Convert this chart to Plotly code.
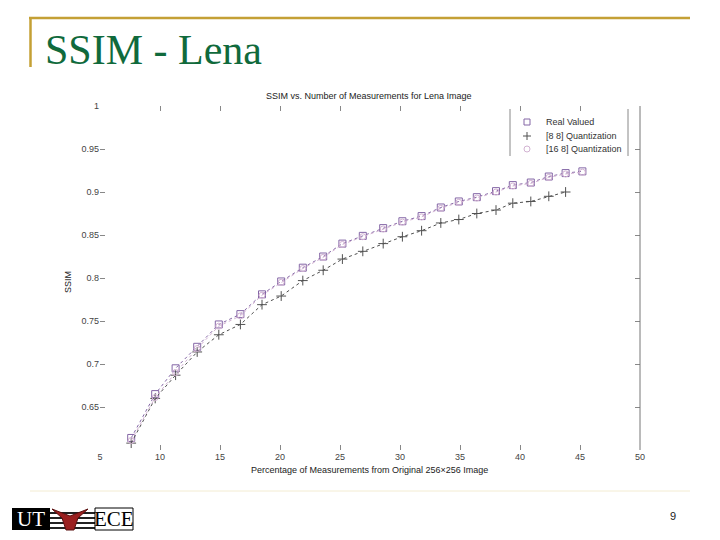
import plotly.graph_objects as go

pct_real = [7.6, 9.6, 11.3, 13.1, 14.9, 16.7, 18.5, 20.1, 21.9, 23.6, 25.2, 26.9,
            28.6, 30.2, 31.8, 33.4, 34.9, 36.4, 38.0, 39.4, 40.9, 42.4, 43.8, 45.2]
ssim_real = [0.614, 0.665, 0.695, 0.720, 0.746, 0.758, 0.781, 0.796, 0.812, 0.825,
             0.840, 0.849, 0.858, 0.866, 0.872, 0.882, 0.889, 0.894, 0.901, 0.908,
             0.911, 0.918, 0.922, 0.924]

pct_q88 = [7.6, 9.6, 11.3, 13.1, 14.9, 16.7, 18.5, 20.1, 21.9, 23.6, 25.2, 26.9,
           28.6, 30.2, 31.8, 33.4, 34.9, 36.4, 38.0, 39.4, 40.9, 42.4, 43.8]
ssim_q88 = [0.608, 0.660, 0.687, 0.714, 0.734, 0.746, 0.769, 0.779, 0.797, 0.809,
            0.822, 0.831, 0.840, 0.848, 0.855, 0.864, 0.868, 0.875, 0.879, 0.887,
            0.889, 0.895, 0.900]

pct_q168 = pct_real
ssim_q168 = [0.611, 0.661, 0.690, 0.718, 0.744, 0.756, 0.780, 0.795, 0.811, 0.824,
             0.839, 0.848, 0.857, 0.865, 0.871, 0.881, 0.888, 0.893, 0.900, 0.907,
             0.910, 0.917, 0.921, 0.923]

series_names = ["Real Valued", "[8 8] Quantization", "[16 8] Quantization"]
series_colors = ["#8466a6", "#505050", "#d2b2d2"]

x_ticks = [5, 10, 15, 20, 25, 30, 35, 40, 45, 50]
y_ticks = [0.65, 0.7, 0.75, 0.8, 0.85, 0.9, 0.95, 1]
y_tick_text = ["0.65", "0.7", "0.75", "0.8", "0.85", "0.9", "0.95", "1"]

# plot area in page pixels
L, R, T, B = 100, 640, 106, 450


def px(xp):
    return (xp - L) / (R - L)


def py(yp):
    return (B - yp) / (B - T)


SANS = "Liberation Sans, Arial, sans-serif"
SERIF = "Liberation Serif, Times New Roman, serif"

fig = go.Figure()
fig.add_trace(go.Scatter(
    x=pct_real, y=ssim_real, name=series_names[0], mode="lines+markers",
    line=dict(color=series_colors[0], width=1, dash="dot"),
    marker=dict(symbol="square-open", size=7, color=series_colors[0], line=dict(width=1)),
))
fig.add_trace(go.Scatter(
    x=pct_q88, y=ssim_q88, name=series_names[1], mode="lines+markers",
    line=dict(color=series_colors[1], width=1, dash="dot"),
    marker=dict(symbol="cross-thin-open", size=7, color=series_colors[1], line=dict(width=1)),
))
fig.add_trace(go.Scatter(
    x=pct_q168, y=ssim_q168, name=series_names[2], mode="lines+markers",
    line=dict(color=series_colors[2], width=1, dash="dot"),
    marker=dict(symbol="circle-open", size=6, color=series_colors[2], line=dict(width=1)),
))

fig.update_layout(
    width=720, height=540,
    margin=dict(l=L, r=720 - R, t=T, b=540 - B),
    paper_bgcolor="white", plot_bgcolor="white",
    font=dict(family=SANS, size=9, color="#333333"),
    showlegend=False,
    xaxis=dict(range=[5, 50], tickvals=x_ticks, showgrid=False, zeroline=False,
               showline=False, ticks="inside", ticklen=5, tickcolor="#888888",
               mirror="ticks", tickfont=dict(size=9, color="#444444")),
    yaxis=dict(range=[0.6, 1], tickvals=y_ticks, ticktext=y_tick_text,
               showgrid=False, zeroline=False, showline=False, ticks="inside",
               ticklen=5, tickcolor="#888888", mirror="ticks",
               tickfont=dict(size=9, color="#444444")),
)


def note(text, x, y, size=9, color="#222222", family=SANS, xanchor="center", **kw):
    fig.add_annotation(text=text, xref="paper", yref="paper", x=px(x), y=py(y),
                       xanchor=xanchor, yanchor="middle", showarrow=False,
                       font=dict(family=family, size=size, color=color), **kw)


def seg(x0, y0, x1, y1, color, width=1):
    fig.add_shape(type="line", xref="paper", yref="paper", x0=px(x0), x1=px(x1),
                  y0=py(y0), y1=py(y1), line=dict(color=color, width=width))


# right axis line (the only frame edge visible on the slide)
seg(640, 106, 640, 450, "#777777")

# legend drawn by hand: box sides, glyphs, labels
seg(510, 109, 510, 156, "#888888")
seg(628, 109, 628, 156, "#888888")
leg_y = [122, 136, 149]
fig.add_shape(type="rect", xref="paper", yref="paper", x0=px(524), x1=px(530),
              y0=py(125), y1=py(119), line=dict(color=series_colors[0], width=1))
seg(527, 132, 527, 140, series_colors[1])
seg(523, 136, 531, 136, series_colors[1])
fig.add_shape(type="circle", xref="paper", yref="paper", x0=px(524), x1=px(530),
              y0=py(152), y1=py(146), line=dict(color=series_colors[2], width=1))
for name, yy in zip(series_names, leg_y):
    note(name, 544, yy, color="#333333", xanchor="left")

# chart title and axis titles
note("SSIM vs. Number of Measurements for Lena Image", 369, 96)
note("Percentage of Measurements from Original 256×256 Image", 369, 470)
note("SSIM", 68, 282, textangle=-90)

# slide decoration: gold rules, heading, footer
seg(29, 18, 690, 18, "#c4a035", 2.5)
seg(30.5, 17, 30.5, 67, "#c4a035", 2.5)
seg(30, 491, 690, 491, "#f3ecd2", 1)
note("SSIM - Lena", 43, 50, size=42, color="#106a3c", family=SERIF, xanchor="left")
note("9", 673, 516, size=11)

# UT ECE logo (simplified)
fig.add_shape(type="rect", xref="paper", yref="paper", x0=px(12), x1=px(50),
              y0=py(530), y1=py(508), fillcolor="black", line=dict(width=0))
for yy in (513, 518, 523, 528):
    seg(50, yy, 95, yy, "#222222", 2)
fig.add_shape(type="path", xref="paper", yref="paper",
              path=(f"M {px(52)},{py(509)} L {px(70)},{py(516)} L {px(88)},{py(509)} "
                    f"L {px(78)},{py(518)} L {px(74)},{py(530)} L {px(66)},{py(530)} "
                    f"L {px(62)},{py(518)} Z"),
              fillcolor="#9a2020", line=dict(color="#5a1010", width=1))
fig.add_shape(type="rect", xref="paper", yref="paper", x0=px(95), x1=px(133),
              y0=py(530), y1=py(508), fillcolor="white", line=dict(color="black", width=1))
note("UT", 31, 519, size=21, color="white", family=SERIF)
note("ECE", 114, 519, size=21, color="black", family=SERIF)

fig.write_html("out.html", config={"displayModeBar": False},
               post_script="document.body.style.margin='0';")
